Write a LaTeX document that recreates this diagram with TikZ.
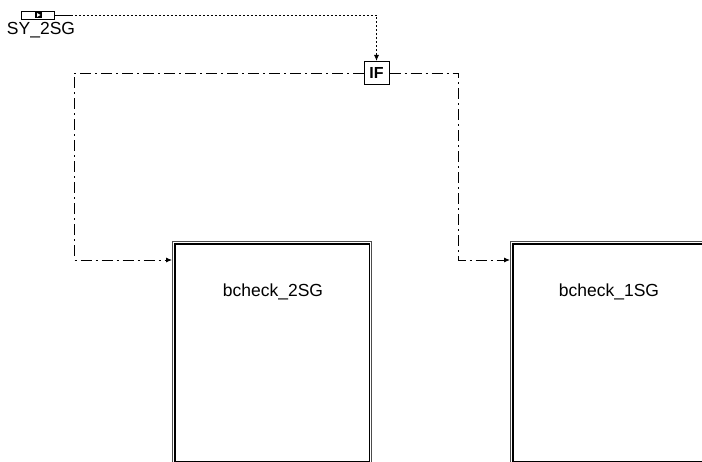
\documentclass[tikz,border=0pt]{standalone}
\usepackage{fontspec}
\setmainfont{Liberation Sans}
\usetikzlibrary{arrows.meta}
\begin{document}
\begin{tikzpicture}[x=1pt,y=-1pt,
  dotline/.style={line width=0.9pt,dash pattern=on 2pt off 2pt},
  dashdotline/.style={line width=0.9pt,dash pattern=on 11pt off 4pt on 2pt off 4pt},
  tip/.style={-{Latex[length=6pt,width=5pt]}},
  port/.style={draw,line width=0.9pt,minimum width=33pt,minimum height=8pt,inner sep=0pt},
  ifbox/.style={draw,line width=1pt,minimum width=25pt,minimum height=23pt,inner sep=0pt,font=\fontsize{16}{16}\selectfont\bfseries},
  sub/.style={draw=gray!60!black,line width=1.4pt,minimum width=199pt,minimum height=222pt,inner sep=0pt},
  subtext/.style={font=\fontsize{17.5}{17.5}\selectfont},
  porttext/.style={font=\fontsize{17.5}{17.5}\selectfont}
]
\useasboundingbox (0,0) rectangle (702,462);
% input port
\node[port] (sy) at (38,15) {};
\node[fill=black,minimum width=7pt,minimum height=6pt,inner sep=0pt] (syicon) at (38.5,15) {};
\fill[white] ([shift={(-1.5pt,-2pt)}]syicon.center) -- ++(3.5pt,2pt) -- ++(-3.5pt,2pt) -- cycle;
\node[porttext] (sylabel) at (41,30) {SY\_2SG};
% IF box
\node[ifbox] (if) at (376.5,73) {IF};
% subsystems
\node[sub,anchor=north west] (b2) at (172,241) {};
\node[sub,anchor=north west] (b1) at (510,241) {};
\draw[line width=1.2pt] ([shift={(3pt,-3pt)}]b2.north west) rectangle ([shift={(-3pt,3pt)}]b2.south east);
\draw[line width=1.2pt] ([shift={(3pt,-3pt)}]b1.north west) rectangle ([shift={(-3pt,3pt)}]b1.south east);
\node[subtext] (t2) at (273,292) {bcheck\_2SG};
\node[subtext] (t1) at (609,292) {bcheck\_1SG};
% connectors
\coordinate (c1) at (376.5,15);
\draw[line width=0.9pt] (sy.east) -- ++(18,0);
\draw[dotline,tip] (sy.east) -- (c1) -- (if.north);
\coordinate (l1) at (74,73);
\coordinate (l2) at (74,260);
\draw[dashdotline,tip] (if.west) -- (l1) -- (l2) -- (l2 -| b2.west);
\coordinate (r1) at (458,73);
\coordinate (r2) at (458,260);
\draw[dashdotline,tip] (if.east) -- (r1) -- (r2) -- (r2 -| b1.west);
\end{tikzpicture}
\end{document}
